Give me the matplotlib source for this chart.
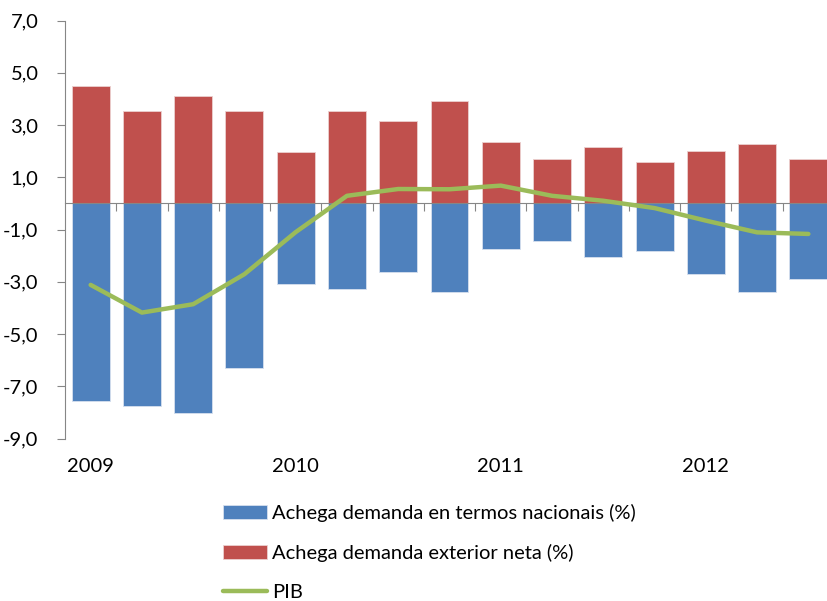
import matplotlib
matplotlib.use("Agg")
import matplotlib.pyplot as plt
import matplotlib.transforms as mtransforms
import numpy as np

plt.rcParams['font.family'] = ['Lato', 'DejaVu Sans']

# 2009 T1 .. 2012 T3 (quarters)
quarters = ['2009', '', '', '', '2010', '', '', '', '2011', '', '', '', '2012', '', '']
domestic = [-7.56, -7.75, -8.01, -6.31, -3.09, -3.27, -2.64, -3.40,
            -1.75, -1.43, -2.07, -1.81, -2.71, -3.40, -2.90]
external = [4.48, 3.54, 4.10, 3.54, 1.95, 3.54, 3.14, 3.92,
            2.34, 1.70, 2.16, 1.57, 2.02, 2.27, 1.70]
pib = [-3.12, -4.18, -3.86, -2.71, -1.10, 0.29, 0.55, 0.54,
       0.68, 0.29, 0.10, -0.18, -0.66, -1.11, -1.17]

yticks = [-9, -7, -5, -3, -1, 1, 3, 5, 7]

blue = '#4F81BD'
red = '#C0504D'
green = '#9BBB59'
grey = '#868686'

fig = plt.figure(figsize=(8.27, 6.01), dpi=100)
ax = fig.add_axes([65 / 827, 1 - 438.5 / 601, 769 / 827, 418 / 601])

x = np.arange(len(quarters))
b1 = ax.bar(x, domestic, width=0.74, color=blue, edgecolor='#D6E0EE', linewidth=0.6,
            label='Achega demanda en termos nacionais (%)', zorder=2)
b2 = ax.bar(x, external, width=0.74, color=red, edgecolor='#EBD0CF', linewidth=0.6,
            label='Achega demanda exterior neta (%)', zorder=2)
ln, = ax.plot(x, pib, color=green, linewidth=3.2, solid_capstyle='round',
              solid_joinstyle='round', label='PIB', zorder=4)

ax.set_xlim(-0.5, len(quarters) - 0.5)
ax.set_ylim(-9, 7)

for side in ['top', 'right']:
    ax.spines[side].set_visible(False)
ax.spines['left'].set_color(grey)
ax.spines['bottom'].set_color(grey)
ax.spines['bottom'].set_position(('data', 0))
ax.spines['bottom'].set_zorder(3)

ax.set_yticks(yticks)
ax.set_yticklabels([('%.1f' % v).replace('.', ',') for v in yticks])
ax.tick_params(axis='y', direction='out', length=6, color=grey, pad=13,
               labelsize=14.5, labelcolor='black')

ax.set_xticks(x[1:] - 0.5)
ax.set_xticklabels([])
ax.tick_params(axis='x', direction='out', length=6, color=grey)

trans = mtransforms.blended_transform_factory(ax.transData, ax.transAxes)
for i, lab in enumerate(quarters):
    if lab:
        ax.text(i, -0.068, lab, transform=trans, ha='center', va='center',
                fontsize=14.5, color='black')

fig.legend(handles=[b1, b2, ln], loc='upper left',
           bbox_to_anchor=(223 / 827, 1 - 504 / 601),
           frameon=False, fontsize=14.5, borderpad=0, borderaxespad=0,
           handlelength=2.2, handleheight=0.72, handletextpad=0.25,
           labelspacing=1.08)

fig.savefig('out.png', dpi=100)
